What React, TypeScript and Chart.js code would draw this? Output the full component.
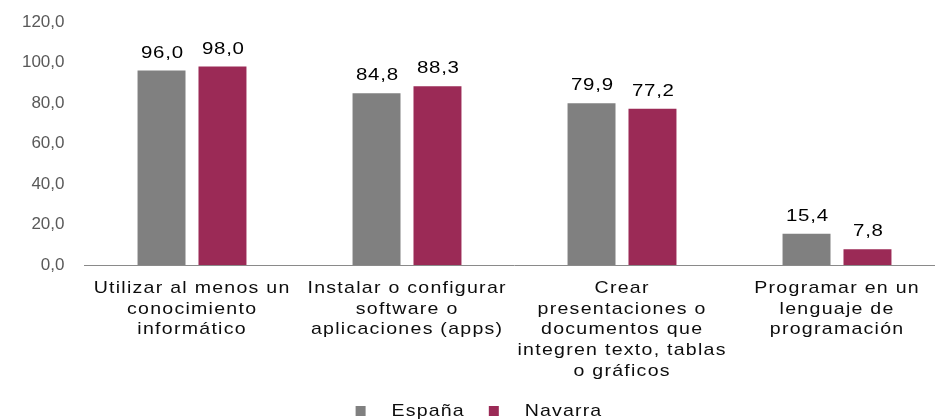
import React, { useEffect, useRef } from "react";
import { Chart, registerables } from "chart.js";

Chart.register(...registerables);

const categories: string[][] = [
  ["Utilizar al menos un", "conocimiento", "informático"],
  ["Instalar o configurar", "software o", "aplicaciones (apps)"],
  ["Crear", "presentaciones o", "documentos que", "integren texto, tablas", "o gráficos"],
  ["Programar en un", "lenguaje de", "programación"],
];
const espana: number[] = [96.0, 84.8, 79.9, 15.4];
const navarra: number[] = [98.0, 88.3, 77.2, 7.8];
const seriesNames: string[] = ["España", "Navarra"];
const seriesColors: string[] = ["#808080", "#9b2a56"];

const FONT = "'Liberation Sans', Arial, sans-serif";
const fmt = (v: number) => v.toFixed(1).replace(".", ",");

function stretchedText(
  ctx: CanvasRenderingContext2D,
  text: string,
  x: number,
  y: number,
  k: number,
  spacing: number,
  align: "center" | "left"
) {
  ctx.save();
  (ctx as any).letterSpacing = `${spacing}px`;
  ctx.textAlign = align;
  ctx.translate(x + (align === "center" ? (spacing * k) / 2 : 0), y);
  ctx.scale(k, 1);
  ctx.fillText(text, 0, 0);
  ctx.restore();
}

function stretchedWidth(ctx: CanvasRenderingContext2D, text: string, k: number, spacing: number) {
  ctx.save();
  (ctx as any).letterSpacing = `${spacing}px`;
  const w = ctx.measureText(text).width * k;
  ctx.restore();
  return w;
}

const customDraw = {
  id: "customDraw",
  afterDraw(chart: any) {
    const ctx = chart.ctx as CanvasRenderingContext2D;
    const xs = chart.scales.x;
    // data labels
    ctx.save();
    ctx.font = `16.5px ${FONT}`;
    ctx.fillStyle = "#000000";
    ctx.textBaseline = "alphabetic";
    chart.data.datasets.forEach((ds: any, di: number) => {
      const meta = chart.getDatasetMeta(di);
      meta.data.forEach((bar: any, i: number) => {
        stretchedText(ctx, fmt(ds.data[i]), bar.x + 0.5, bar.y - 13, 1.24, 0.6, "center");
      });
    });
    ctx.restore();

    // x category labels
    ctx.save();
    ctx.font = `17px ${FONT}`;
    ctx.fillStyle = "#0d0d0d";
    ctx.textBaseline = "alphabetic";
    const base = chart.chartArea.bottom + 28;
    categories.forEach((lines, i) => {
      const cx = xs.getPixelForValue(i) - 0.5;
      lines.forEach((line, li) => {
        stretchedText(ctx, line, cx, base + li * 20.7, 1.15, 1.1, "center");
      });
    });
    ctx.restore();

    // legend
    ctx.save();
    ctx.font = `17px ${FONT}`;
    ctx.textBaseline = "alphabetic";
    const box = 10;
    const gap = 26;
    const itemGap = 24;
    const widths = seriesNames.map((n) => stretchedWidth(ctx, n, 1.15, 1.0));
    const total = widths.reduce((a, w) => a + box + gap + w, 0) + itemGap * (seriesNames.length - 1);
    let x = chart.width / 2 + 4 - total / 2;
    const yBase = 416;
    seriesNames.forEach((n, i) => {
      ctx.fillStyle = seriesColors[i];
      ctx.fillRect(x, yBase - 10, box, box);
      ctx.fillStyle = "#0d0d0d";
      stretchedText(ctx, n, x + box + gap, yBase, 1.15, 1.0, "left");
      x += box + gap + widths[i] + itemGap;
    });
    ctx.restore();
  },
};

export default function App() {
  const ref = useRef<HTMLCanvasElement>(null);
  useEffect(() => {
    if (!ref.current) return;
    const chart = new Chart(ref.current, {
      type: "bar",
      data: {
        labels: categories.map((c) => c.join(" ")),
        datasets: [
          {
            label: seriesNames[0],
            data: espana,
            backgroundColor: seriesColors[0],
            categoryPercentage: 0.567,
            barPercentage: 0.787,
          },
          {
            label: seriesNames[1],
            data: navarra,
            backgroundColor: seriesColors[1],
            categoryPercentage: 0.567,
            barPercentage: 0.787,
          },
        ],
      },
      options: {
        responsive: false,
        animation: false,
        layout: { padding: { top: 22, right: 5.5, bottom: 0, left: 0 } },
        plugins: { legend: { display: false }, tooltip: { enabled: false } },
        scales: {
          x: {
            grid: { display: false },
            border: { display: true, color: "#8a8a8a", width: 1 },
            ticks: { display: false },
            afterFit: (s: any) => {
              s.height = 154;
            },
          },
          y: {
            min: 0,
            max: 120,
            grid: { display: false, drawTicks: false },
            border: { display: false },
            ticks: {
              stepSize: 20,
              padding: 20,
              color: "#595959",
              font: { family: FONT, size: 17 },
              callback: (v: any) => fmt(Number(v)),
            },
            afterFit: (s: any) => {
              s.width = 84.5;
              s.paddingTop = 8;
              s.paddingBottom = 8;
            },
          },
        },
      },
      plugins: [customDraw],
    });
    return () => chart.destroy();
  }, []);
  return (
    <div
      style={{
        position: "absolute",
        left: 0,
        top: 0,
        width: 935,
        height: 419,
        overflow: "hidden",
        background: "#ffffff",
      }}
    >
      <canvas ref={ref} width={950} height={419} style={{ display: "block" }} />
    </div>
  );
}
